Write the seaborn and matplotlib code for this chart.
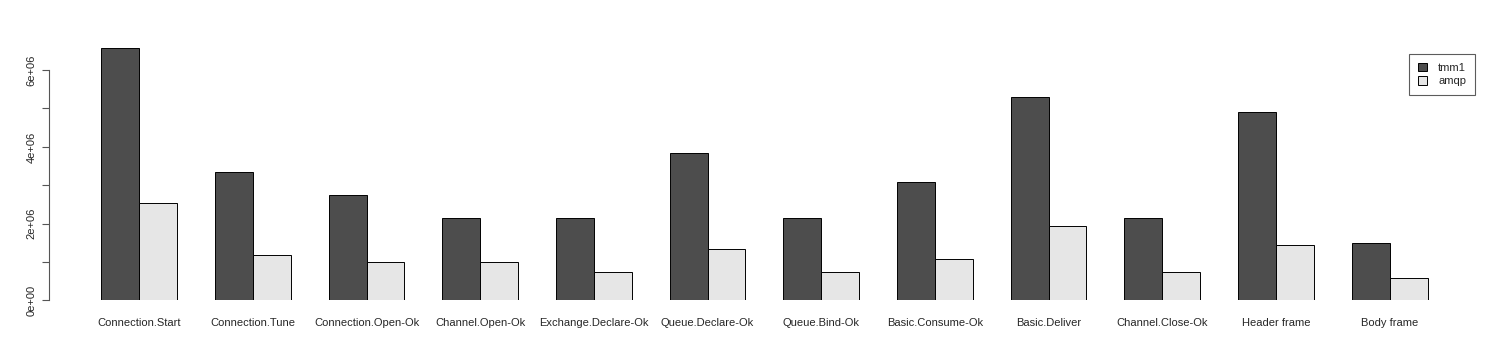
import matplotlib
matplotlib.use("Agg")
import matplotlib.pyplot as plt
import pandas as pd
import seaborn as sns

# message types on the x axis
methods = ["Connection.Start", "Connection.Tune", "Connection.Open-Ok",
           "Channel.Open-Ok", "Exchange.Declare-Ok", "Queue.Declare-Ok",
           "Queue.Bind-Ok", "Basic.Consume-Ok", "Basic.Deliver",
           "Channel.Close-Ok", "Header frame", "Body frame"]

# values
tmm1 = [6.57e6, 3.35e6, 2.75e6, 2.15e6, 2.15e6, 3.84e6,
        2.15e6, 3.09e6, 5.31e6, 2.15e6, 4.90e6, 1.50e6]
amqp = [2.54e6, 1.18e6, 1.00e6, 1.00e6, 0.74e6, 1.34e6,
        0.74e6, 1.08e6, 1.94e6, 0.74e6, 1.45e6, 0.58e6]

y_ticks = [0, 1e6, 2e6, 3e6, 4e6, 5e6, 6e6]
y_labels = ["0e+00", "", "2e+06", "", "4e+06", "", "6e+06"]

df = pd.DataFrame({
    "method": methods * 2,
    "value": tmm1 + amqp,
    "lib": ["tmm1"] * len(methods) + ["amqp"] * len(methods),
})

sns.set_style("white")
plt.rcParams["font.family"] = ["Liberation Sans", "DejaVu Sans"]

fig = plt.figure(figsize=(15, 3.57), dpi=100)
ax = fig.add_axes([0.0549, 0.1583, 0.9094, 0.7529])

sns.barplot(data=df, x="method", y="value", hue="lib", order=methods,
            hue_order=["tmm1", "amqp"],
            palette={"tmm1": "#4d4d4d", "amqp": "#e6e6e6"},
            width=2 / 3, saturation=1, edgecolor="black", linewidth=0.7,
            ax=ax, legend=True)

ax.set_xlim(-0.5, 11.5)
ax.set_ylim(0, 7e6)
ax.set_xlabel("")
ax.set_ylabel("")

for side in ["top", "right", "bottom"]:
    ax.spines[side].set_visible(False)
ax.spines["left"].set_bounds(0, 6e6)
ax.spines["left"].set_position(("outward", 24))
ax.spines["left"].set_color("#555555")
ax.spines["left"].set_linewidth(0.8)

ax.set_yticks(y_ticks)
ax.set_yticklabels(y_labels, rotation=90, va="center", fontsize=8)
ax.tick_params(axis="y", left=True, length=5, width=0.8, color="#555555", pad=4)
ax.tick_params(axis="x", bottom=False, length=0, pad=12.5, labelsize=8)

ax.legend_.remove()
handles, labels = ax.get_legend_handles_labels()
leg = fig.legend(handles, labels, loc="upper right",
                 bbox_to_anchor=(0.9833, 0.8487), bbox_transform=fig.transFigure,
                 fancybox=False, edgecolor="#333333", fontsize=8,
                 handlelength=0.8, handleheight=0.8, handletextpad=1.0,
                 borderpad=0.8, labelspacing=0.3, borderaxespad=0)
leg.get_frame().set_linewidth(0.8)

fig.savefig("out.png", dpi=100, facecolor="white")
